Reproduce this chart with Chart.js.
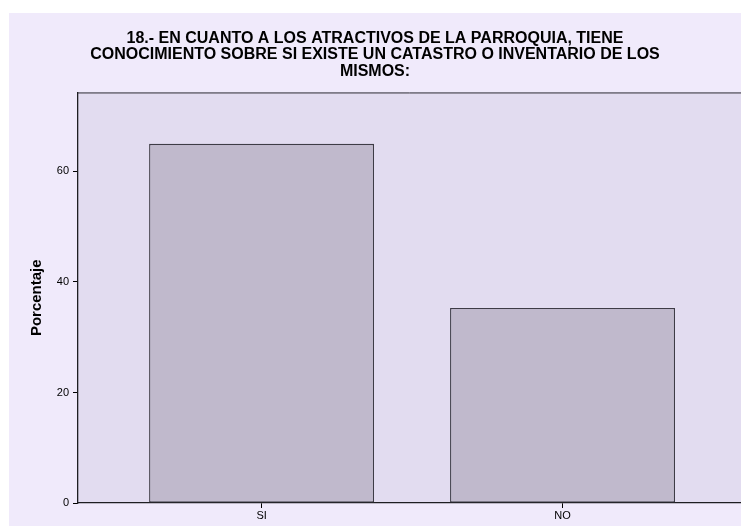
<!DOCTYPE html>
<html>
<head>
<meta charset="utf-8">
<script src="https://cdn.jsdelivr.net/npm/chart.js@4.4.1/dist/chart.umd.min.js"></script>
<style>
    html, body { margin: 0; padding: 0; background: #ffffff; }
    #wrap {
        position: absolute;
        left: 9px;
        top: 13px;
        width: 732px;
        height: 513px;
        background: #f0eafb;
    }
</style>
</head>
<body>
<div id="wrap"><canvas id="chart"></canvas></div>
<script>
// Data
const categories = ['SI', 'NO'];
const percentages = [65.0, 35.3];
const yTicks = [0, 20, 40, 60];

const titleLines = [
    '18.- EN CUANTO A LOS ATRACTIVOS DE LA PARROQUIA, TIENE',
    'CONOCIMIENTO SOBRE SI EXISTE UN CATASTRO O INVENTARIO DE LOS',
    'MISMOS:'
];

// Plot background + top border (SPSS style)
const plotBackground = {
    id: 'plotBackground',
    beforeDraw(chart) {
        const { ctx, chartArea } = chart;
        ctx.save();
        ctx.fillStyle = '#e2dcf0';
        ctx.fillRect(chartArea.left, chartArea.top, chartArea.right - chartArea.left, chartArea.bottom - chartArea.top);
        ctx.strokeStyle = '#2e2e34';
        ctx.lineWidth = 1;
        ctx.beginPath();
        ctx.moveTo(chartArea.left, chartArea.top + 0.5);
        ctx.lineTo(chartArea.right, chartArea.top + 0.5);
        ctx.stroke();
        ctx.restore();
    }
};

const ctx = document.getElementById('chart');

new Chart(ctx, {
    type: 'bar',
    data: {
        datasets: [{
            label: 'Porcentaje',
            data: categories.map((c, i) => ({ x: i, y: percentages[i] })),
            backgroundColor: '#c0b9cc',
            borderColor: '#3e3c46',
            borderWidth: 1.3,
            borderSkipped: false,
            barPercentage: 0.7475,
            categoryPercentage: 1
        }]
    },
    options: {
        responsive: true,
        maintainAspectRatio: false,
        animation: false,
        layout: { padding: { top: 0, right: 0, bottom: 0, left: 0 } },
        plugins: {
            legend: { display: false },
            tooltip: { enabled: false },
            title: {
                display: true,
                text: titleLines,
                color: '#000000',
                font: { family: 'Liberation Sans, Arial', size: 16, weight: 'bold', lineHeight: 1.03 },
                padding: { top: 17, bottom: 13 }
            }
        },
        scales: {
            x: {
                type: 'linear',
                min: -0.61,
                max: 1.593,
                offset: false,
                grid: { offset: false, drawOnChartArea: false, drawTicks: true, tickLength: 5, color: '#000000' },
                border: { display: true, color: '#1e1e22', width: 1.3 },
                afterBuildTicks: axis => { axis.ticks = categories.map((c, i) => ({ value: i })); },
                afterFit: axis => { axis.height = 23; },
                ticks: {
                    color: '#000000',
                    padding: 1,
                    font: { family: 'Liberation Sans, Arial', size: 11 },
                    callback: value => categories[value]
                }
            },
            y: {
                min: 0,
                max: 74.3,
                grid: { drawOnChartArea: false, drawTicks: true, tickLength: 5, color: '#000000' },
                border: { display: true, color: '#1e1e22', width: 1.3 },
                afterBuildTicks: axis => { axis.ticks = yTicks.map(v => ({ value: v })); },
                afterFit: axis => { axis.width = 69; },
                title: {
                    display: true,
                    text: 'Porcentaje',
                    color: '#000000',
                    font: { family: 'Liberation Sans, Arial', size: 15, weight: 'bold' },
                    padding: { top: 19, bottom: 0 }
                },
                ticks: {
                    color: '#000000',
                    padding: 4,
                    font: { family: 'Liberation Sans, Arial', size: 11 }
                }
            }
        }
    },
    plugins: [plotBackground]
});
</script>
</body>
</html>
